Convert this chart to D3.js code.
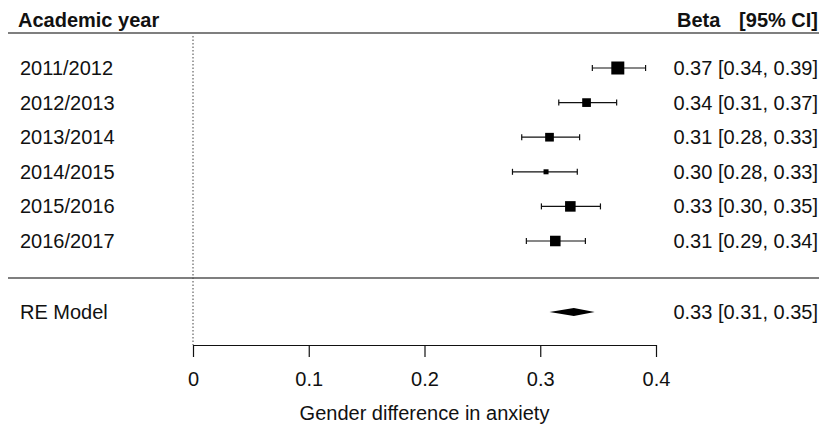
<!DOCTYPE html>
<html>
<head>
<meta charset="utf-8">
<script src="https://cdn.jsdelivr.net/npm/d3@7"></script>
<style>
  body { margin: 0; background: #fff; }
  text { font-family: "Liberation Sans", Arial, sans-serif; fill: #111; }
</style>
</head>
<body>
<svg id="forest" width="819" height="427"></svg>
<script>
// study rows
const years = ["2011/2012", "2012/2013", "2013/2014", "2014/2015", "2015/2016", "2016/2017"];
const beta = [0.367, 0.340, 0.308, 0.305, 0.326, 0.313];
const ciLow = [0.345, 0.316, 0.284, 0.276, 0.301, 0.288];
const ciHigh = [0.391, 0.366, 0.334, 0.332, 0.352, 0.339];
const weights = [22, 15, 15, 9, 18, 18];
const labels = ["0.37 [0.34, 0.39]", "0.34 [0.31, 0.37]", "0.31 [0.28, 0.33]",
  "0.30 [0.28, 0.33]", "0.33 [0.30, 0.35]", "0.31 [0.29, 0.34]"];

// pooled estimate
const reModel = { name: "RE Model", est: 0.329, lo: 0.308, hi: 0.347, label: "0.33 [0.31, 0.35]" };

const xTicks = [0, 0.1, 0.2, 0.3, 0.4];

const svg = d3.select("#forest");
const fontSize = 20;

const x = d3.scaleLinear().domain([0, 0.4]).range([193, 656]);
const y = d3.scalePoint().domain(years).range([68, 241]);
const size = d3.scaleLinear().domain(d3.extent(weights)).range([5, 13]);

const rowY = 312;
const axisY = 345;

// header
svg.append("text").text("Academic year").attr("x", 18).attr("y", 27)
  .style("font-weight", "bold").style("font-size", fontSize + "px");
svg.append("text").text("Beta").attr("x", 677).attr("y", 27)
  .style("font-weight", "bold").style("font-size", fontSize + "px");
svg.append("text").text("[95% CI]").attr("x", 818).attr("y", 27).attr("text-anchor", "end")
  .style("font-weight", "bold").style("font-size", fontSize + "px");

svg.append("line").attr("x1", 8).attr("x2", 819).attr("y1", 33).attr("y2", 33)
  .attr("stroke", "#555").attr("stroke-width", 1.5);
svg.append("line").attr("x1", 8).attr("x2", 819).attr("y1", 278).attr("y2", 278)
  .attr("stroke", "#555").attr("stroke-width", 1.5);

// reference line at 0
svg.append("line").attr("x1", x(0)).attr("x2", x(0)).attr("y1", 36).attr("y2", axisY)
  .attr("stroke", "#444").attr("stroke-dasharray", "1.5,2");

const rows = years.map((d, i) => ({ year: d, b: beta[i], lo: ciLow[i], hi: ciHigh[i], w: weights[i], label: labels[i] }));

const g = svg.selectAll(".row").data(rows).join("g").attr("class", "row");

g.append("text").text(d => d.year).attr("x", 20).attr("y", d => y(d.year))
  .attr("dy", "0.35em").style("font-size", fontSize + "px");
g.append("text").text(d => d.label).attr("x", 818).attr("y", d => y(d.year))
  .attr("text-anchor", "end").attr("dy", "0.35em").style("font-size", fontSize + "px");

g.append("line").attr("x1", d => x(d.lo)).attr("x2", d => x(d.hi))
  .attr("y1", d => y(d.year)).attr("y2", d => y(d.year))
  .attr("stroke", "#111").attr("stroke-width", 1.2);
g.append("line").attr("x1", d => x(d.lo)).attr("x2", d => x(d.lo))
  .attr("y1", d => y(d.year) - 3).attr("y2", d => y(d.year) + 3)
  .attr("stroke", "#111").attr("stroke-width", 1.2);
g.append("line").attr("x1", d => x(d.hi)).attr("x2", d => x(d.hi))
  .attr("y1", d => y(d.year) - 3).attr("y2", d => y(d.year) + 3)
  .attr("stroke", "#111").attr("stroke-width", 1.2);
g.append("rect")
  .attr("x", d => x(d.b) - size(d.w) / 2).attr("y", d => y(d.year) - size(d.w) / 2)
  .attr("width", d => size(d.w)).attr("height", d => size(d.w))
  .attr("fill", "#000");

// RE model row
svg.append("text").text(reModel.name).attr("x", 20).attr("y", rowY)
  .attr("dy", "0.35em").style("font-size", fontSize + "px");
svg.append("text").text(reModel.label).attr("x", 818).attr("y", rowY)
  .attr("text-anchor", "end").attr("dy", "0.35em").style("font-size", fontSize + "px");
svg.append("polygon")
  .attr("points", [[x(reModel.lo), rowY], [x(reModel.est), rowY - 4], [x(reModel.hi), rowY], [x(reModel.est), rowY + 4]].join(" "))
  .attr("fill", "#000");

// x axis
const axis = svg.append("g").attr("transform", "translate(0," + axisY + ")")
  .call(d3.axisBottom(x).tickValues(xTicks).tickSize(12).tickSizeOuter(0).tickPadding(15)
    .tickFormat(d => d === 0 ? "0" : d3.format(".1f")(d)));
axis.select(".domain").attr("stroke", "#111").attr("stroke-width", 1.2);
axis.selectAll(".tick line").attr("stroke", "#111").attr("stroke-width", 1.2);
axis.selectAll(".tick text").style("font-size", fontSize + "px").attr("fill", "#111")
  .style("font-family", "'Liberation Sans', Arial, sans-serif");

svg.append("text").text("Gender difference in anxiety").attr("x", x(0.2)).attr("y", 413)
  .attr("text-anchor", "middle").attr("dy", "0.35em").style("font-size", fontSize + "px");
</script>
</body>
</html>
